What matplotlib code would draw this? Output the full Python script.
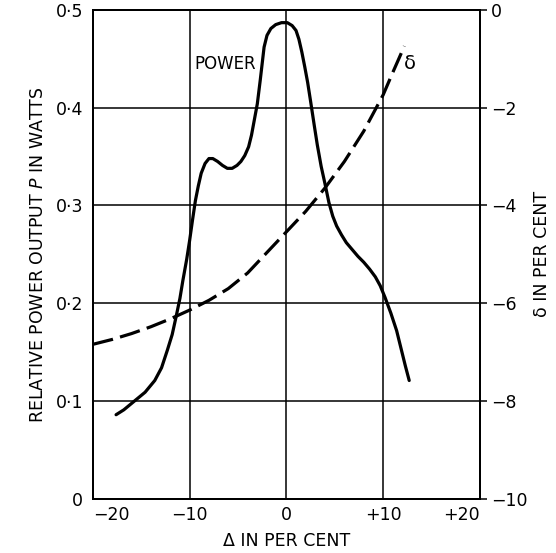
import matplotlib
matplotlib.use("Agg")
import matplotlib.pyplot as plt

# Power output curve (left axis, watts)
power_x = [-17.6, -16.8, -15.7, -14.6, -13.6, -12.9, -12.3, -11.8, -11.4, -11.0,
           -10.7, -10.3, -10.0, -9.7, -9.4, -9.1, -8.8, -8.4, -8.0, -7.6,
           -7.1, -6.6, -6.1, -5.6, -5.1, -4.7, -4.3, -3.9, -3.6, -3.3,
           -3.0, -2.7, -2.5, -2.3, -2.0, -1.6, -1.1, -0.5, 0.1, 0.6,
           1.0, 1.3, 1.6, 1.9, 2.2, 2.5, 2.9, 3.2, 3.6, 4.0,
           4.4, 4.8, 5.2, 5.7, 6.2, 6.8, 7.4, 8.0, 8.6, 9.2,
           9.7, 10.2, 10.8, 11.4, 11.9, 12.3, 12.7]
power_y = [0.086, 0.091, 0.100, 0.109, 0.121, 0.134, 0.152, 0.168, 0.186, 0.205,
           0.223, 0.245, 0.264, 0.285, 0.305, 0.320, 0.333, 0.343, 0.348, 0.348,
           0.345, 0.341, 0.338, 0.338, 0.341, 0.345, 0.351, 0.360, 0.372, 0.388,
           0.404, 0.428, 0.445, 0.462, 0.474, 0.481, 0.485, 0.487, 0.487, 0.484,
           0.479, 0.470, 0.457, 0.442, 0.426, 0.407, 0.381, 0.362, 0.340, 0.322,
           0.303, 0.289, 0.279, 0.270, 0.262, 0.255, 0.248, 0.242, 0.235, 0.227,
           0.218, 0.206, 0.190, 0.172, 0.152, 0.136, 0.121]

# delta curve (right axis, per cent)
delta_x = [-20, -18, -16, -14, -12, -10, -8, -6, -4, -2,
           0, 2, 4, 6, 8, 10, 11, 12.2]
delta_y = [-6.84, -6.74, -6.62, -6.48, -6.32, -6.14, -5.94, -5.70, -5.38, -4.96,
           -4.54, -4.12, -3.64, -3.10, -2.48, -1.74, -1.28, -0.74]

x_ticks = [-20, -10, 0, 10, 20]
x_labels = ["\u221220", "\u221210", "0", "+10", "+20"]
left_ticks = [0, 0.1, 0.2, 0.3, 0.4, 0.5]
left_labels = ["0", "0\u00b71", "0\u00b72", "0\u00b73", "0\u00b74", "0\u00b75"]
right_ticks = [0, -2, -4, -6, -8, -10]
right_labels = ["0", "\u22122", "\u22124", "\u22126", "\u22128", "\u221210"]

plt.rcParams['font.family'] = ['DejaVu Sans']

fig = plt.figure(figsize=(5.56, 5.53), dpi=100)
ax = fig.add_axes([0.167, 0.098, 0.696, 0.884])
ax2 = ax.twinx()

# Grid lines
for gx in [-10, 0, 10]:
    ax.axvline(gx, color='black', lw=1.1, zorder=1)
for gy in [0.1, 0.2, 0.3, 0.4]:
    ax.axhline(gy, color='black', lw=1.1, zorder=1)

ax.plot(power_x, power_y, color='black', lw=2.3, solid_capstyle='round',
        solid_joinstyle='round', zorder=3)
ax2.plot(delta_x, delta_y, color='black', lw=2.3, linestyle=(0, (6.5, 2.3)),
         dash_capstyle='butt', zorder=3)

ax.set_xlim(-20, 20)
ax.set_ylim(0, 0.5)
ax2.set_ylim(-10, 0)

ax.set_xticks(x_ticks)
ax.set_xticklabels(x_labels)
ax.set_yticks(left_ticks)
ax.set_yticklabels(left_labels)
ax2.set_yticks(right_ticks)
ax2.set_yticklabels(right_labels)

# end labels sit inside the frame like in the original
xt = ax.get_xticklabels()
xt[0].set_ha('left')
xt[-1].set_ha('right')

ax.tick_params(axis='y', length=0, labelsize=12.5, pad=7)
ax.tick_params(axis='x', length=0, labelsize=12.5, pad=5)
ax2.tick_params(axis='y', length=5, width=1.1, direction='out', labelsize=12.5, pad=3)

for a in (ax, ax2):
    for s in a.spines.values():
        s.set_linewidth(1.4)

ax.text(-6.3, 0.445, "POWER", fontsize=12, ha='center', va='center')
ax.text(12.8, 0.445, "\u03b4", fontsize=14, ha='center', va='center')

ax.set_xlabel("\u0394 IN PER CENT", fontsize=12.5, labelpad=6)
ax.set_ylabel("RELATIVE POWER OUTPUT $P$ IN WATTS", fontsize=12.5, labelpad=6)
ax2.set_ylabel("\u03b4 IN PER CENT", fontsize=12.5, rotation=90, labelpad=4)

fig.savefig("out.png", dpi=100)
